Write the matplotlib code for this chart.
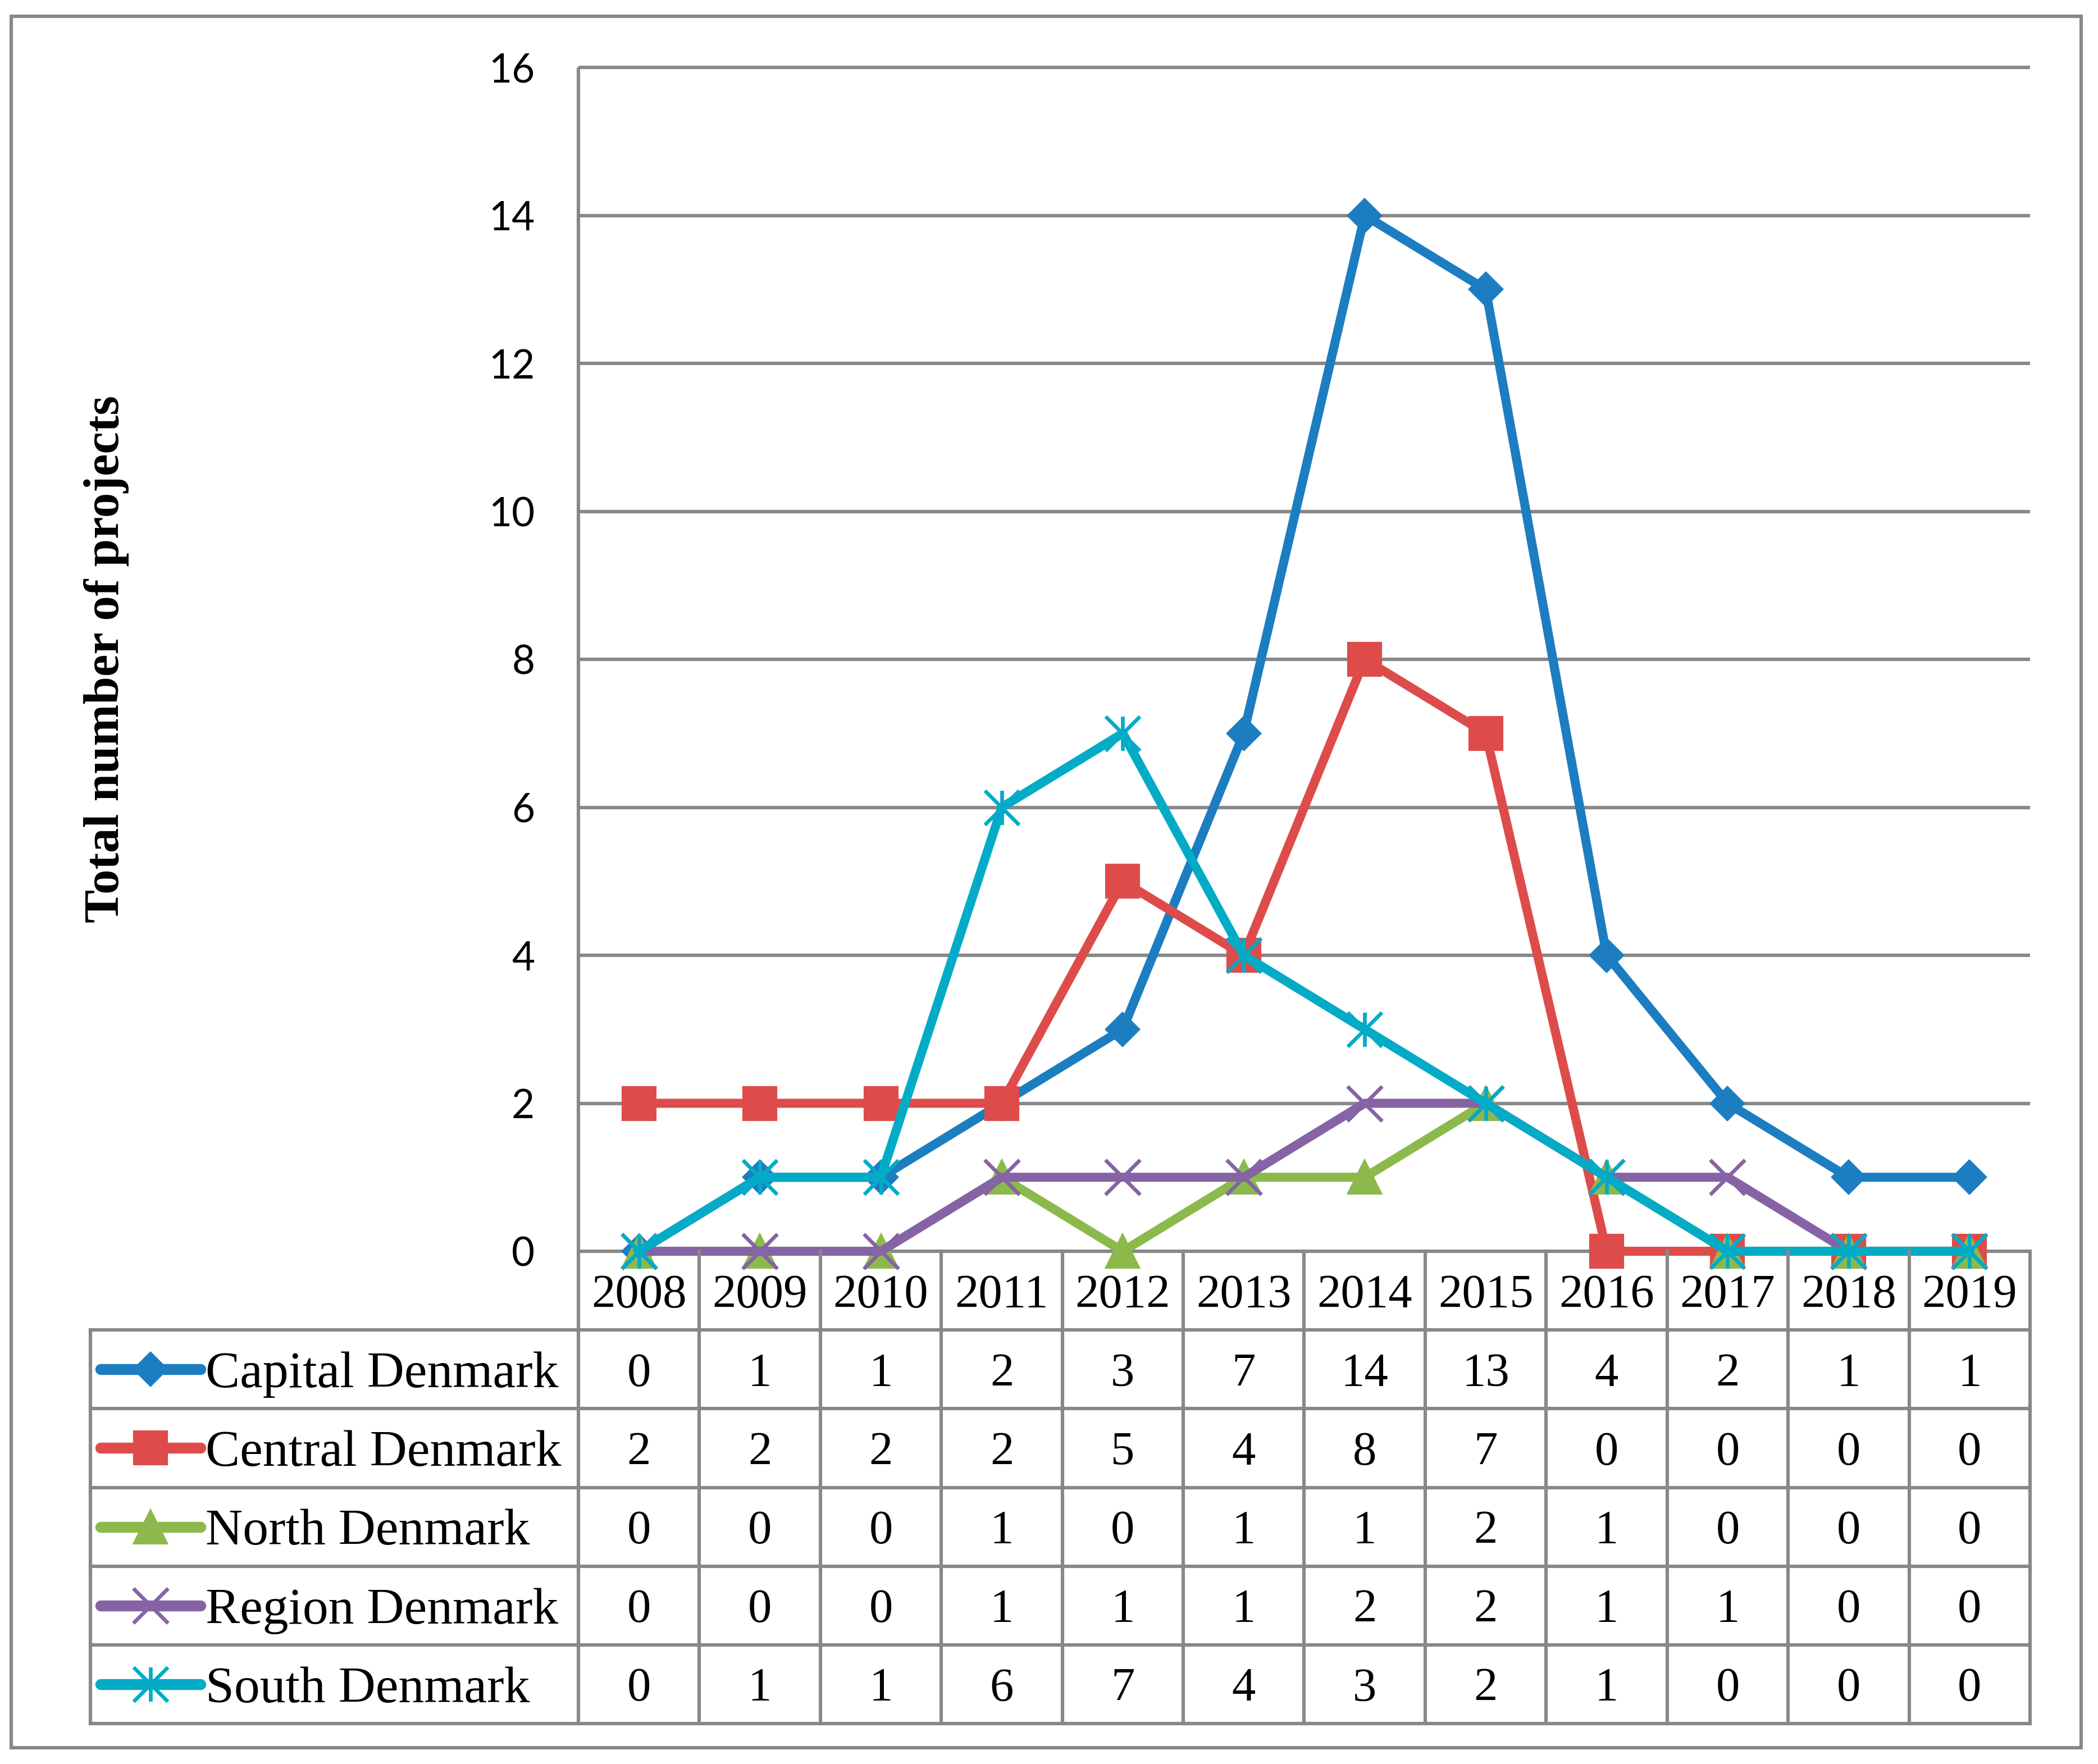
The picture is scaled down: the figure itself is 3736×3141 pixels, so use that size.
import matplotlib
matplotlib.use("Agg")
import matplotlib.pyplot as plt
import numpy as np
from matplotlib.path import Path
from matplotlib.patches import Rectangle

years = ["2008", "2009", "2010", "2011", "2012", "2013",
         "2014", "2015", "2016", "2017", "2018", "2019"]
regions = ["Capital Denmark", "Central Denmark", "North Denmark",
           "Region Denmark", "South Denmark"]
capital = [0, 1, 1, 2, 3, 7, 14, 13, 4, 2, 1, 1]
central = [2, 2, 2, 2, 5, 4, 8, 7, 0, 0, 0, 0]
north = [0, 0, 0, 1, 0, 1, 1, 2, 1, 0, 0, 0]
region = [0, 0, 0, 1, 1, 1, 2, 2, 1, 1, 0, 0]
south = [0, 1, 1, 6, 7, 4, 3, 2, 1, 0, 0, 0]
series = [capital, central, north, region, south]
yticks = [0, 2, 4, 6, 8, 10, 12, 14, 16]

colors = ["#1C7DC1", "#DD4C4A", "#8CB94C", "#8663A5", "#03ABC7"]
grid_c = "#888888"

# asterisk marker: an x with a vertical bar
star = Path([(-0.5, -0.5), (0.5, 0.5), (-0.5, 0.5), (0.5, -0.5), (0, -0.5), (0, 0.5)],
            [Path.MOVETO, Path.LINETO, Path.MOVETO, Path.LINETO, Path.MOVETO, Path.LINETO])
marker_kw = [
    dict(marker="D", markersize=15, markeredgewidth=1.5),
    dict(marker="s", markersize=21, markeredgewidth=1.5),
    dict(marker="^", markersize=21, markeredgewidth=1.5),
    dict(marker="x", markersize=22, markeredgewidth=2.4),
    dict(marker=star, markersize=22, markeredgewidth=2.4),
]

W, H = 3736, 3141
fig = plt.figure(figsize=(W / 200, H / 200), dpi=200)

# layout in pixels of the original
ax_l, ax_r, ax_t, ax_b = 1030, 3615, 120, 2228
tab_l, tab_b = 161, 3069

ax = fig.add_axes([ax_l / W, 1 - ax_b / H, (ax_r - ax_l) / W, (ax_b - ax_t) / H])
n = len(years)
x = np.arange(n)
ax.set_xlim(-0.5, n - 0.5)
ax.set_ylim(0, 16)
for s in ax.spines.values():
    s.set_visible(False)
ax.set_xticks([])
ax.set_yticks(yticks)
ax.set_yticklabels([str(v) for v in yticks], family="Lato", fontsize=25.5)
ax.tick_params(axis="y", length=0, pad=28)
ax.hlines(yticks, -0.5, n - 0.5, colors=grid_c, lw=2.2, clip_on=False, zorder=1)
ax.vlines(-0.5, 0, 16, colors=grid_c, lw=2.2, clip_on=False, zorder=1)

for i, (vals, c, mk) in enumerate(zip(series, colors, marker_kw)):
    face = c if mk["marker"] in ("D", "s", "^") else "none"
    ax.plot(x, vals, color=c, lw=5.8, solid_joinstyle="round",
            markerfacecolor=face, markeredgecolor=c, clip_on=False,
            zorder=3 + i, **mk)

# data table under the plot
col_w = (ax_r - ax_l) / n
xl = -0.5 - (ax_l - tab_l) / col_w
tab = fig.add_axes([tab_l / W, 1 - tab_b / H, (ax_r - tab_l) / W, (tab_b - ax_b) / H])
tab.set_xlim(xl, n - 0.5)
tab.set_ylim(len(regions) + 1, 0)
tab.axis("off")
nr = len(regions) + 1
lkw = dict(color=grid_c, lw=2.2, solid_capstyle="projecting", clip_on=False)
for r in range(1, nr + 1):
    tab.plot([xl, n - 0.5], [r, r], **lkw)
tab.plot([xl, xl], [1, nr], **lkw)
for k in range(n + 1):
    tab.plot([k - 0.5, k - 0.5], [0, nr], **lkw)

serif = "Liberation Serif"
for j, yr in enumerate(years):
    tab.text(j, 0.5, yr, ha="center", va="center_baseline", family=serif, fontsize=30.5)

key_x0 = xl + (179 - tab_l) / col_w
key_x1 = xl + (357 - tab_l) / col_w
key_xm = xl + (268 - tab_l) / col_w
lab_x = xl + (366 - tab_l) / col_w
for i, (name, vals, c, mk) in enumerate(zip(regions, series, colors, marker_kw)):
    yc = i + 1.5
    tab.plot([key_x0, key_x1], [yc, yc], color=c, lw=7, solid_capstyle="round", clip_on=False)
    face = c if mk["marker"] in ("D", "s", "^") else "none"
    tab.plot([key_xm], [yc], color=c, markerfacecolor=face, markeredgecolor=c,
             clip_on=False, **mk)
    tab.text(lab_x, yc, name, ha="left", va="center_baseline", family=serif, fontsize=33)
    for j, v in enumerate(vals):
        tab.text(j, yc, str(v), ha="center", va="center_baseline", family=serif, fontsize=30.5)

fig.text(190 / W, 1 - 1174 / H, "Total number of projects", rotation=90,
         ha="center", va="center", family=serif, fontweight="bold", fontsize=32)

# outer frame
fig.add_artist(Rectangle((20 / W, 1 - 3112 / H), (3706 - 20) / W, (3112 - 29) / H,
                         transform=fig.transFigure, fill=False, edgecolor=grid_c, lw=2.2))

fig.savefig("out.png", dpi=200, facecolor="white")
